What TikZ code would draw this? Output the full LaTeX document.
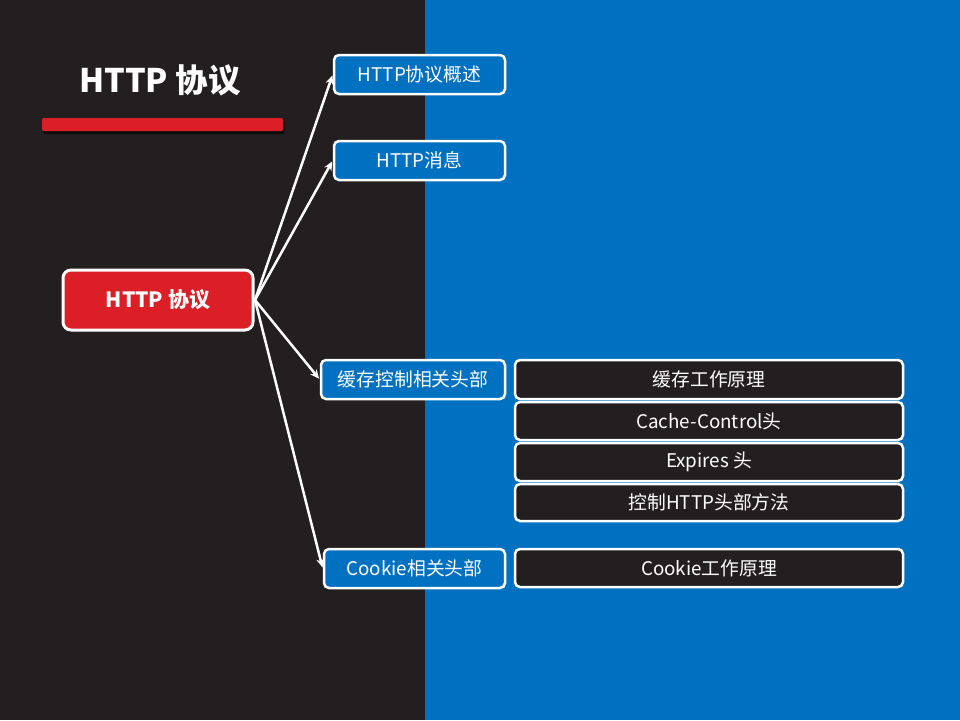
\documentclass[tikz,border=0pt]{standalone}
\usepackage{fontspec}
\setmainfont{Noto Sans CJK SC}
\usetikzlibrary{arrows.meta}
\definecolor{darkbg}{HTML}{231F20}
\definecolor{bluebg}{HTML}{0070C0}
\definecolor{redc}{HTML}{DC1F26}
\tikzset{
  mainbox/.style={draw=white, line width=3pt, fill=redc, rounded corners=8pt, text=white,
    font=\fontsize{21}{25}\selectfont\bfseries, minimum width=190pt, minimum height=60pt, inner sep=0pt},
  childbox/.style={draw=white, line width=2.5pt, fill=bluebg, rounded corners=5pt, text=white,
    font=\fontsize{18.8}{22}\selectfont, minimum height=39pt, inner sep=0pt},
  leafbox/.style={draw=white, line width=2.5pt, fill=darkbg, rounded corners=5pt, text=white,
    font=\fontsize{18.8}{22}\selectfont, minimum width=388pt, inner sep=0pt},
  conn/.style={draw=white, line width=2.5pt, -{Stealth[length=9pt,width=8pt]}, shorten >=1pt},
}
\begin{document}
\begin{tikzpicture}[x=1pt,y=-1pt]
\useasboundingbox (0,0) rectangle (960,720);
\fill[darkbg] (0,0) rectangle (425,720);
\fill[bluebg] (425,0) rectangle (960,720);
% title
\node[text=white, font=\fontsize{32.5}{38}\selectfont\bfseries] (title) at (160,80) {HTTP 协议};
\fill[black, opacity=0.6, rounded corners=2pt] (43,121) rectangle (285,134);
\fill[redc, rounded corners=2pt] (42,118) rectangle (283,131);
% main
\node[mainbox] (main) at (158,300) {HTTP 协议};
% children
\node[childbox, minimum width=171pt] (c1) at (419.5,74.5) {HTTP协议概述};
\node[childbox, minimum width=171pt] (c2) at (419.5,160.5) {HTTP消息};
\node[childbox, minimum width=184pt] (c3) at (413,379.5) {缓存控制相关头部};
\node[childbox, minimum width=181pt] (c4) at (414.5,568.5) {Cookie相关头部};
% leaves
\node[leafbox, minimum height=39pt] (r1) at (709,379.5) {缓存工作原理};
\node[leafbox, minimum height=38pt] (r2) at (709,421) {Cache-Control头};
\node[leafbox, minimum height=38pt] (r3) at (709,462) {Expires 头};
\node[leafbox, minimum height=37pt] (r4) at (709,502.5) {控制HTTP头部方法};
\node[leafbox, minimum height=38pt] (r5) at (709,568) {Cookie工作原理};
% connectors
\coordinate (src) at (255,300);
\draw[conn] (src) -- (c1.west);
\draw[conn] (src) -- (c2.west);
\draw[conn] (src) -- (c3.west);
\draw[conn] (src) -- (c4.west);
\end{tikzpicture}
\end{document}
